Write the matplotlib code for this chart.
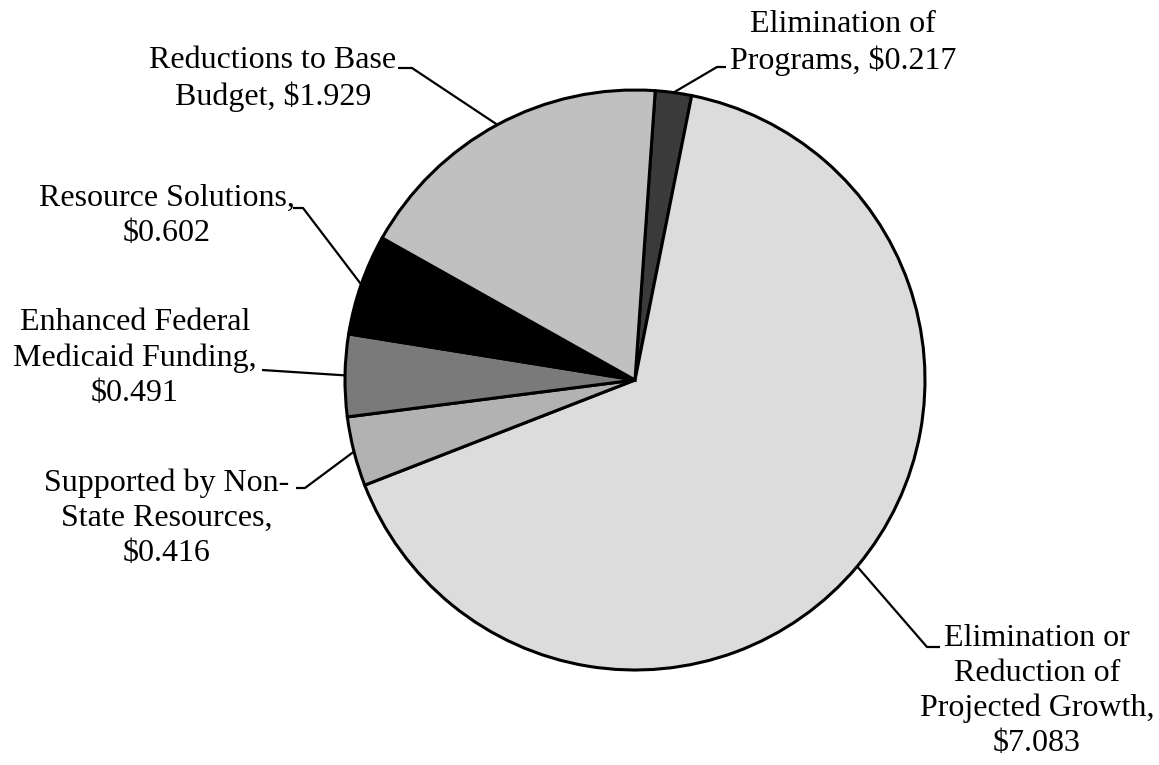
import numpy as np
import matplotlib.pyplot as plt

# values in $ billions, clockwise from the top
labels = [
    "Elimination of\nPrograms, $0.217",
    "Elimination or\nReduction of\nProjected Growth,\n$7.083",
    "Supported by Non-\nState Resources,\n$0.416",
    "Enhanced Federal\nMedicaid Funding,\n$0.491",
    "Resource Solutions,\n$0.602",
    "Reductions to Base\nBudget, $1.929",
]
values = [0.217, 7.083, 0.416, 0.491, 0.602, 1.929]
colors = ["#3a3a3a", "#dcdcdc", "#b2b2b2", "#7a7a7a", "#000000", "#c0c0c0"]

# label layout in pixels from the top-left: text centre, elbow, line end
text_pos = [(843, 43), (1037, 691), (167, 518), (135, 358), (167, 216), (273, 79)]
elbows = [(717, 67), (927, 647), (305, 488), (262, 370), (303, 208), (412, 68)]
ends = [(726, 67), (940, 647), (296, 488), (262, 370), (293, 208), (398, 68)]

W, H = 1159, 765
cx, cy, r = 635, 380, 290

plt.rcParams['font.family'] = ['Liberation Serif', 'DejaVu Serif']

fig = plt.figure(figsize=(W / 100, H / 100), dpi=100)
ax = fig.add_axes([0, 0, 1, 1])
ax.set_xlim(0, W)
ax.set_ylim(0, H)
ax.set_aspect('equal')
ax.axis('off')

wedges, _ = ax.pie(values, colors=colors, startangle=86, counterclock=False,
                   center=(cx, H - cy), radius=r,
                   wedgeprops=dict(edgecolor='black', linewidth=2.2))
ax.set_xlim(0, W)
ax.set_ylim(0, H)

for w, lab, tp, el, en in zip(wedges, labels, text_pos, elbows, ends):
    mid = np.deg2rad((w.theta1 + w.theta2) / 2)
    ex = cx + r * np.cos(mid)
    ey = (H - cy) + r * np.sin(mid)
    ax.plot([ex, el[0], en[0]], [ey, H - el[1], H - en[1]], color='black', lw=1.6,
            solid_capstyle='butt')
    ax.text(tp[0], H - tp[1], lab, ha='center', va='center', fontsize=23,
            linespacing=1.27, multialignment='center')

fig.savefig('out.png', dpi=100)
